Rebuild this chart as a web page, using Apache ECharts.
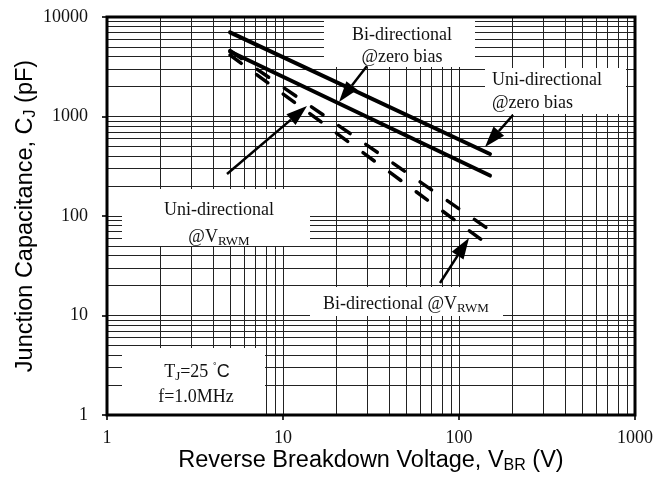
<!DOCTYPE html>
<html>
<head>
<meta charset="utf-8">
<script src="https://cdn.jsdelivr.net/npm/echarts@6/dist/echarts.min.js"></script>
<style>
html, body { margin: 0; padding: 0; background: #fff; }
#main { width: 668px; height: 479px; }
</style>
</head>
<body>
<div id="main"></div>
<script>
// curve end points, V_BR in volts, C_J in pF
var vbr = [5, 150];
var uniZeroBias = [7000, 420];
var biZeroBias = [4500, 255];
var uniVrwm = [4600, 72];
var biVrwm = [4150, 50];

// log grid
var xDecades = [1, 10, 100];
var yDecades = [1, 10, 100, 1000];
var gridSteps = [1, 2, 3, 4, 5, 6, 7, 8, 9];

var SERIF = "'Liberation Serif', 'Times New Roman', serif";
var SANS = "'Liberation Sans', Arial, sans-serif";

function gridValues(decades) {
    var out = [];
    decades.forEach(function (d) {
        gridSteps.forEach(function (s) {
            if (d * s > 1) out.push(d * s);
        });
    });
    return out;
}

function pairs(ys) {
    return vbr.map(function (v, i) { return [v, ys[i]]; });
}

var gridLines = [];
gridValues(xDecades).forEach(function (v) { gridLines.push({ xAxis: v }); });
gridValues(yDecades).forEach(function (v) { gridLines.push({ yAxis: v }); });

function arrow(x1, y1, x2, y2) {
    var dx = x2 - x1, dy = y2 - y1;
    var len = Math.sqrt(dx * dx + dy * dy);
    var ux = dx / len, uy = dy / len;
    var hl = 21, hw = 7;
    var bx = x2 - ux * hl, by = y2 - uy * hl;
    return [
        { type: 'line', z: 6, silent: true,
          shape: { x1: x1, y1: y1, x2: bx, y2: by },
          style: { stroke: '#000', lineWidth: 2.5 } },
        { type: 'polygon', z: 6, silent: true,
          shape: { points: [[x2, y2], [bx - uy * hw, by + ux * hw], [bx + uy * hw, by - ux * hw]] },
          style: { fill: '#000' } }
    ];
}

function box(x, y, w, h) {
    return { type: 'rect', z: 2, silent: true,
             shape: { x: x, y: y, width: w, height: h },
             style: { fill: '#fff' } };
}

var subRich = {
    a: { fontFamily: SERIF, fontSize: 18, color: '#111' },
    s: { fontFamily: SERIF, fontSize: 13, color: '#111', padding: [9, 0, 0, 0] },
    d: { fontFamily: SERIF, fontSize: 12, color: '#111', padding: [0, 0, 9, 0] },
    c: { fontFamily: SANS, fontSize: 18, color: '#111' }
};

function label(x, y, text, align) {
    return { type: 'text', z: 7, silent: true, x: x, y: y,
             style: { text: text, rich: subRich, font: '18px ' + SERIF, fill: '#111',
                      align: align || 'center', verticalAlign: 'middle',
                      textAlign: align || 'center', textVerticalAlign: 'middle' } };
}

var graphics = [
    box(324, 17, 151, 50),
    box(485, 68, 141, 46),
    box(122, 189, 188, 57),
    box(310, 287, 193, 29),
    box(122, 348, 143, 66),
    label(402, 35, '{a|Bi-directional}'),
    label(402, 57, '{a|@zero bias}'),
    label(492, 80, '{a|Uni-directional}', 'left'),
    label(492, 103, '{a|@zero bias}', 'left'),
    label(219, 210, '{a|Uni-directional}'),
    label(219, 237, '{a|@V}{s|RWM}'),
    label(323, 304, '{a|Bi-directional @V}{s|RWM}', 'left'),
    label(197, 372, '{a|T}{s|J}{a|=25 }{d|˚}{c|C}'),
    label(196, 397, '{a|f=1.0MHz}')
]
.concat(arrow(227, 174, 307, 106))
.concat(arrow(367, 66, 339, 102))
.concat(arrow(513, 115, 485, 147))
.concat(arrow(440, 283, 469, 238));

var chart = echarts.init(document.getElementById('main'));

var nameRich = {
    a: { fontFamily: SANS, fontSize: 23.5, color: '#000' },
    s: { fontFamily: SANS, fontSize: 16, color: '#000', padding: [10, 0, 0, 0] }
};

function numLabel(v) { return String(Math.round(v)); }

var option = {
    animation: false,
    backgroundColor: '#fff',
    grid: { left: 107, right: 33, top: 17, bottom: 63, show: true,
            borderColor: '#000', borderWidth: 3, z: 10 },
    xAxis: {
        type: 'log', logBase: 10, min: 1, max: 1000,
        name: '{a|Reverse Breakdown Voltage, V}{s|BR}{a| (V)}',
        nameLocation: 'middle', nameGap: 33, nameMoveOverlap: false,
        nameTextStyle: { rich: nameRich },
        axisLine: { show: false },
        axisTick: { show: true, length: 5, lineStyle: { color: '#333', width: 2 } },
        axisLabel: { margin: 14, fontFamily: SERIF, fontSize: 18, color: '#111', formatter: numLabel },
        splitLine: { show: false }
    },
    yAxis: {
        type: 'log', logBase: 10, min: 1, max: 10000,
        name: '{a|Junction Capacitance, C}{s|J}{a| (pF)}',
        nameLocation: 'middle', nameGap: 68, nameRotate: 90, nameMoveOverlap: false,
        nameTextStyle: { rich: nameRich },
        axisLine: { show: false },
        axisTick: { show: true, length: 5, lineStyle: { color: '#333', width: 2 } },
        axisLabel: { margin: 19, fontFamily: SERIF, fontSize: 18, color: '#111', formatter: numLabel },
        splitLine: { show: false }
    },
    graphic: graphics,
    series: [
        {
            type: 'line', z: 1, silent: true, showSymbol: false,
            data: [[1, 1]], lineStyle: { opacity: 0 },
            markLine: {
                z: 1, silent: true, symbol: ['none', 'none'], label: { show: false },
                lineStyle: { color: '#222', width: 1, type: 'solid' },
                data: gridLines
            }
        },
        { name: 'Uni-directional @zero bias', type: 'line', z: 5, showSymbol: false,
          data: pairs(uniZeroBias), lineStyle: { color: '#000', width: 4, cap: 'round' } },
        { name: 'Bi-directional @zero bias', type: 'line', z: 5, showSymbol: false,
          data: pairs(biZeroBias), lineStyle: { color: '#000', width: 4, cap: 'round' } },
        { name: 'Uni-directional @VRWM', type: 'line', z: 5, showSymbol: false,
          data: pairs(uniVrwm), lineStyle: { color: '#000', width: 3.5, type: [14, 19], cap: 'round' } },
        { name: 'Bi-directional @VRWM', type: 'line', z: 5, showSymbol: false,
          data: pairs(biVrwm), lineStyle: { color: '#000', width: 3.5, type: [14, 19], cap: 'round' } }
    ]
};

chart.setOption(option);
</script>
</body>
</html>
